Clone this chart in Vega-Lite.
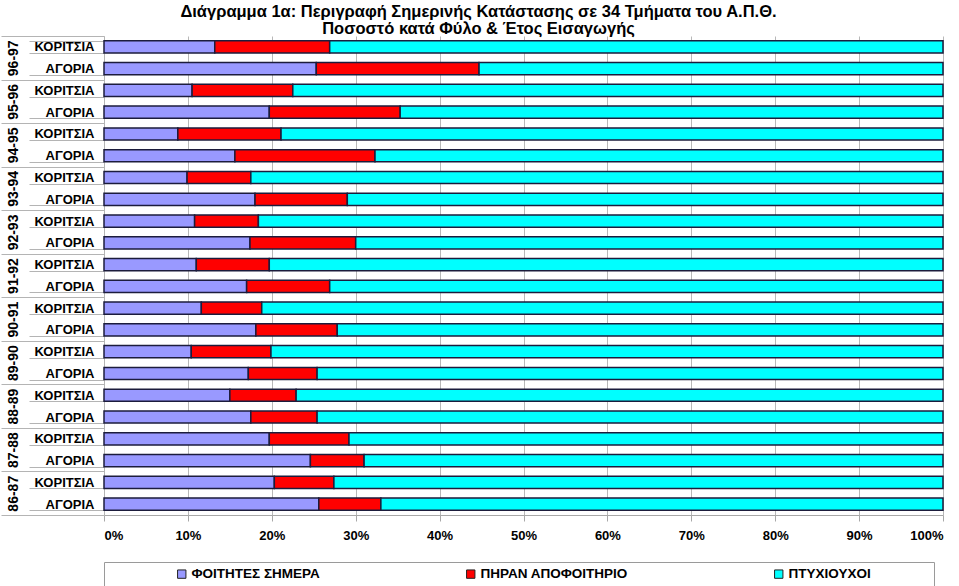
{
  "$schema": "https://vega.github.io/schema/vega-lite/v6.json",
  "width": 839,
  "height": 479,
  "padding": {"left": 0, "top": 3, "right": 0, "bottom": 3},
  "background": "white",
  "title": {
    "text": ["Διάγραμμα 1α: Περιγραφή Σημερινής Κατάστασης σε 34 Τμήματα του Α.Π.Θ.", "Ποσοστό κατά Φύλο & Έτος Εισαγωγής"],
    "font": "Liberation Sans",
    "fontSize": 16.5,
    "fontWeight": "bold",
    "lineHeight": 17,
    "color": "black",
    "anchor": "middle",
    "dx": -45,
    "offset": -7
  },
  "config": {
    "view": {"stroke": null},
    "font": "Liberation Sans"
  },
  "data": {
    "values": [
      {"year": "96-97", "gender": "ΚΟΡΙΤΣΙΑ", "ΦΟΙΤΗΤΕΣ ΣΗΜΕΡΑ": 13.2, "ΠΗΡΑΝ ΑΠΟΦΟΙΤΗΡΙΟ": 13.7, "ΠΤΥΧΙΟΥΧΟΙ": 73.1},
      {"year": "96-97", "gender": "ΑΓΟΡΙΑ", "ΦΟΙΤΗΤΕΣ ΣΗΜΕΡΑ": 25.3, "ΠΗΡΑΝ ΑΠΟΦΟΙΤΗΡΙΟ": 19.4, "ΠΤΥΧΙΟΥΧΟΙ": 55.3},
      {"year": "95-96", "gender": "ΚΟΡΙΤΣΙΑ", "ΦΟΙΤΗΤΕΣ ΣΗΜΕΡΑ": 10.5, "ΠΗΡΑΝ ΑΠΟΦΟΙΤΗΡΙΟ": 12.0, "ΠΤΥΧΙΟΥΧΟΙ": 77.5},
      {"year": "95-96", "gender": "ΑΓΟΡΙΑ", "ΦΟΙΤΗΤΕΣ ΣΗΜΕΡΑ": 19.7, "ΠΗΡΑΝ ΑΠΟΦΟΙΤΗΡΙΟ": 15.6, "ΠΤΥΧΙΟΥΧΟΙ": 64.7},
      {"year": "94-95", "gender": "ΚΟΡΙΤΣΙΑ", "ΦΟΙΤΗΤΕΣ ΣΗΜΕΡΑ": 8.8, "ΠΗΡΑΝ ΑΠΟΦΟΙΤΗΡΙΟ": 12.3, "ΠΤΥΧΙΟΥΧΟΙ": 78.9},
      {"year": "94-95", "gender": "ΑΓΟΡΙΑ", "ΦΟΙΤΗΤΕΣ ΣΗΜΕΡΑ": 15.6, "ΠΗΡΑΝ ΑΠΟΦΟΙΤΗΡΙΟ": 16.7, "ΠΤΥΧΙΟΥΧΟΙ": 67.7},
      {"year": "93-94", "gender": "ΚΟΡΙΤΣΙΑ", "ΦΟΙΤΗΤΕΣ ΣΗΜΕΡΑ": 9.9, "ΠΗΡΑΝ ΑΠΟΦΟΙΤΗΡΙΟ": 7.6, "ΠΤΥΧΙΟΥΧΟΙ": 82.5},
      {"year": "93-94", "gender": "ΑΓΟΡΙΑ", "ΦΟΙΤΗΤΕΣ ΣΗΜΕΡΑ": 18.0, "ΠΗΡΑΝ ΑΠΟΦΟΙΤΗΡΙΟ": 11.0, "ΠΤΥΧΙΟΥΧΟΙ": 71.0},
      {"year": "92-93", "gender": "ΚΟΡΙΤΣΙΑ", "ΦΟΙΤΗΤΕΣ ΣΗΜΕΡΑ": 10.8, "ΠΗΡΑΝ ΑΠΟΦΟΙΤΗΡΙΟ": 7.6, "ΠΤΥΧΙΟΥΧΟΙ": 81.6},
      {"year": "92-93", "gender": "ΑΓΟΡΙΑ", "ΦΟΙΤΗΤΕΣ ΣΗΜΕΡΑ": 17.4, "ΠΗΡΑΝ ΑΠΟΦΟΙΤΗΡΙΟ": 12.6, "ΠΤΥΧΙΟΥΧΟΙ": 70.0},
      {"year": "91-92", "gender": "ΚΟΡΙΤΣΙΑ", "ΦΟΙΤΗΤΕΣ ΣΗΜΕΡΑ": 11.0, "ΠΗΡΑΝ ΑΠΟΦΟΙΤΗΡΙΟ": 8.7, "ΠΤΥΧΙΟΥΧΟΙ": 80.3},
      {"year": "91-92", "gender": "ΑΓΟΡΙΑ", "ΦΟΙΤΗΤΕΣ ΣΗΜΕΡΑ": 17.0, "ΠΗΡΑΝ ΑΠΟΦΟΙΤΗΡΙΟ": 9.9, "ΠΤΥΧΙΟΥΧΟΙ": 73.1},
      {"year": "90-91", "gender": "ΚΟΡΙΤΣΙΑ", "ΦΟΙΤΗΤΕΣ ΣΗΜΕΡΑ": 11.6, "ΠΗΡΑΝ ΑΠΟΦΟΙΤΗΡΙΟ": 7.2, "ΠΤΥΧΙΟΥΧΟΙ": 81.2},
      {"year": "90-91", "gender": "ΑΓΟΡΙΑ", "ΦΟΙΤΗΤΕΣ ΣΗΜΕΡΑ": 18.1, "ΠΗΡΑΝ ΑΠΟΦΟΙΤΗΡΙΟ": 9.7, "ΠΤΥΧΙΟΥΧΟΙ": 72.2},
      {"year": "89-90", "gender": "ΚΟΡΙΤΣΙΑ", "ΦΟΙΤΗΤΕΣ ΣΗΜΕΡΑ": 10.4, "ΠΗΡΑΝ ΑΠΟΦΟΙΤΗΡΙΟ": 9.5, "ΠΤΥΧΙΟΥΧΟΙ": 80.1},
      {"year": "89-90", "gender": "ΑΓΟΡΙΑ", "ΦΟΙΤΗΤΕΣ ΣΗΜΕΡΑ": 17.2, "ΠΗΡΑΝ ΑΠΟΦΟΙΤΗΡΙΟ": 8.2, "ΠΤΥΧΙΟΥΧΟΙ": 74.6},
      {"year": "88-89", "gender": "ΚΟΡΙΤΣΙΑ", "ΦΟΙΤΗΤΕΣ ΣΗΜΕΡΑ": 15.0, "ΠΗΡΑΝ ΑΠΟΦΟΙΤΗΡΙΟ": 7.9, "ΠΤΥΧΙΟΥΧΟΙ": 77.1},
      {"year": "88-89", "gender": "ΑΓΟΡΙΑ", "ΦΟΙΤΗΤΕΣ ΣΗΜΕΡΑ": 17.5, "ΠΗΡΑΝ ΑΠΟΦΟΙΤΗΡΙΟ": 7.9, "ΠΤΥΧΙΟΥΧΟΙ": 74.6},
      {"year": "87-88", "gender": "ΚΟΡΙΤΣΙΑ", "ΦΟΙΤΗΤΕΣ ΣΗΜΕΡΑ": 19.7, "ΠΗΡΑΝ ΑΠΟΦΟΙΤΗΡΙΟ": 9.5, "ΠΤΥΧΙΟΥΧΟΙ": 70.8},
      {"year": "87-88", "gender": "ΑΓΟΡΙΑ", "ΦΟΙΤΗΤΕΣ ΣΗΜΕΡΑ": 24.6, "ΠΗΡΑΝ ΑΠΟΦΟΙΤΗΡΙΟ": 6.4, "ΠΤΥΧΙΟΥΧΟΙ": 69.0},
      {"year": "86-87", "gender": "ΚΟΡΙΤΣΙΑ", "ΦΟΙΤΗΤΕΣ ΣΗΜΕΡΑ": 20.3, "ΠΗΡΑΝ ΑΠΟΦΟΙΤΗΡΙΟ": 7.1, "ΠΤΥΧΙΟΥΧΟΙ": 72.6},
      {"year": "86-87", "gender": "ΑΓΟΡΙΑ", "ΦΟΙΤΗΤΕΣ ΣΗΜΕΡΑ": 25.6, "ΠΗΡΑΝ ΑΠΟΦΟΙΤΗΡΙΟ": 7.4, "ΠΤΥΧΙΟΥΧΟΙ": 67.0}
    ]
  },
  "transform": [
    {"calculate": "datum.year + '|' + datum.gender", "as": "row"},
    {"fold": ["ΦΟΙΤΗΤΕΣ ΣΗΜΕΡΑ", "ΠΗΡΑΝ ΑΠΟΦΟΙΤΗΡΙΟ", "ΠΤΥΧΙΟΥΧΟΙ"], "as": ["cat", "val"]},
    {"calculate": "indexof(['ΦΟΙΤΗΤΕΣ ΣΗΜΕΡΑ', 'ΠΗΡΑΝ ΑΠΟΦΟΙΤΗΡΙΟ', 'ΠΤΥΧΙΟΥΧΟΙ'], datum.cat)", "as": "ord"}
  ],
  "layer": [
    {
      "mark": {"type": "bar", "stroke": "#1c1c3c", "strokeWidth": 1.5},
      "encoding": {
        "y": {
          "field": "row",
          "type": "nominal",
          "sort": null,
          "scale": {"paddingInner": 0.44, "paddingOuter": 0.22},
          "axis": {
            "title": null,
            "orient": "left",
            "labelExpr": "split(datum.label, '|')[1]",
            "labelFont": "Liberation Sans",
            "labelFontSize": 13,
            "labelFontWeight": "bold",
            "labelColor": "black",
            "labelAlign": "right",
            "labelPadding": -65,
            "tickBand": "extent",
            "tickSize": 75,
            "tickColor": "#b4b4b4",
            "domainColor": "#b4b4b4",
            "grid": false
          }
        },
        "x": {
          "field": "val",
          "type": "quantitative",
          "stack": "normalize",
          "axis": {
            "title": null,
            "format": "%",
            "values": [0, 0.1, 0.2, 0.3, 0.4, 0.5, 0.6, 0.7, 0.8, 0.9, 1],
            "labelFont": "Liberation Sans",
            "labelFontSize": 13,
            "labelFontWeight": "bold",
            "labelColor": "black",
            "labelPadding": 8,
            "tickSize": 6,
            "tickColor": "#a8a8a8",
            "domainColor": "#a8a8a8",
            "grid": true,
            "gridColor": "#b8b8b8",
            "gridWidth": 1
          }
        },
        "color": {
          "field": "cat",
          "type": "nominal",
          "scale": {
            "domain": ["ΦΟΙΤΗΤΕΣ ΣΗΜΕΡΑ", "ΠΗΡΑΝ ΑΠΟΦΟΙΤΗΡΙΟ", "ΠΤΥΧΙΟΥΧΟΙ"],
            "range": ["#9999ff", "#ff0000", "#00ffff"]
          },
          "legend": {
            "title": " ",
            "titleOrient": "right",
            "titlePadding": 58,
            "titleFontSize": 12,
            "orient": "none",
            "legendX": 0,
            "legendY": 526,
            "direction": "horizontal",
            "columns": 3,
            "columnPadding": 78,
            "padding": 5,
            "strokeColor": "#9a9a9a",
            "fillColor": "white",
            "symbolType": "square",
            "symbolSize": 70,
            "symbolStrokeColor": "#222222",
            "symbolStrokeWidth": 1,
            "symbolOpacity": 1,
            "symbolOffset": 66,
            "labelOffset": 3,
            "labelFont": "Liberation Sans",
            "labelFontSize": 13.5,
            "labelFontWeight": "bold",
            "labelColor": "black"
          }
        },
        "order": {"field": "ord", "type": "quantitative"}
      }
    },
    {
      "mark": {"type": "point", "opacity": 0},
      "encoding": {
        "x": {"datum": 0, "type": "quantitative"},
        "y": {
          "field": "year",
          "type": "nominal",
          "sort": null,
          "scale": {"paddingInner": 0, "paddingOuter": 0},
          "axis": {
            "title": null,
            "orient": "left",
            "labelAngle": -90,
            "labelAlign": "center",
            "labelBaseline": "bottom",
            "labelFont": "Liberation Sans",
            "labelFontSize": 14,
            "labelFontWeight": "bold",
            "labelColor": "black",
            "labelPadding": -19,
            "tickBand": "extent",
            "tickSize": 103,
            "tickColor": "#b4b4b4",
            "domain": false,
            "grid": false
          }
        }
      }
    }
  ],
  "resolve": {"scale": {"y": "independent"}, "axis": {"y": "independent"}}
}
